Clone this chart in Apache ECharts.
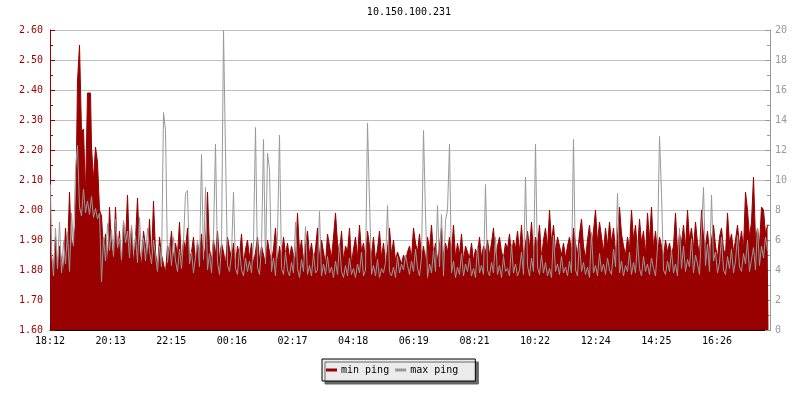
<!DOCTYPE html>
<html>
<head>
<meta charset="utf-8">
<script src="https://cdn.jsdelivr.net/npm/echarts@6/dist/echarts.min.js"></script>
<style>
html,body{margin:0;padding:0;background:#fff;}
#chart{width:800px;height:400px;}
</style>
</head>
<body>
<div id="chart"></div>
<script>
const chartTitle = '10.150.100.231';
const seriesNames = ['min ping', 'max ping'];
const tickLabels = ['18:12','20:13','22:15','00:16','02:17','04:18','06:19','08:21','10:22','12:24','14:25','16:26'];
const tickIntervalMinutes = 121.27;
const spanMinutes = 1440;
const stepMinutes = 4;
const sampleOffsetMinutes = 1;

// min ping (ms), left axis — one sample every 4 minutes
const minPing = [
1.97,1.84,1.80,1.91,1.78,1.88,1.83,1.79,1.94,1.85,2.06,1.87,1.90,1.95,2.43,2.55,2.26,2.27,2.05,2.39,
2.39,2.21,2.10,2.21,2.16,2.00,1.98,1.86,1.92,1.81,2.01,1.88,1.84,2.01,1.85,1.93,1.80,1.96,1.89,2.05,
1.86,1.94,1.82,1.90,2.04,1.87,1.81,1.93,1.88,1.84,1.97,1.83,2.03,1.86,1.80,1.91,1.85,1.82,1.79,1.88,
1.86,1.93,1.83,1.89,1.85,1.96,1.82,1.90,1.87,1.94,1.84,1.86,1.91,1.82,1.89,1.85,1.92,1.83,1.88,2.06,
1.87,1.83,1.90,1.85,1.93,1.83,1.89,1.86,1.82,1.91,1.87,1.84,1.89,1.82,1.88,1.85,1.92,1.82,1.87,1.90,
1.84,1.89,1.82,1.86,1.91,1.83,1.88,1.85,1.82,1.90,1.86,1.83,1.87,1.94,1.82,1.88,1.84,1.91,1.85,1.89,
1.84,1.88,1.85,1.83,1.99,1.86,1.90,1.83,1.88,1.93,1.85,1.89,1.83,1.87,1.94,1.84,1.90,1.86,1.82,1.92,
1.88,1.84,1.91,1.99,1.89,1.85,1.93,1.83,1.88,1.86,1.94,1.82,1.87,1.91,1.84,1.95,1.86,1.89,1.83,1.93,
1.88,1.85,1.91,1.83,1.87,1.93,1.84,1.89,1.82,1.87,1.94,1.85,1.90,1.83,1.86,1.84,1.82,1.85,1.83,1.86,
1.88,1.84,1.94,1.89,1.86,1.92,1.84,1.88,1.83,1.91,1.87,1.95,1.85,1.89,1.83,1.88,1.94,1.84,1.89,1.86,
1.91,1.86,1.95,1.84,1.89,1.85,1.92,1.83,1.88,1.86,1.84,1.89,1.83,1.87,1.85,1.91,1.84,1.88,1.86,1.90,
1.85,1.89,1.94,1.84,1.88,1.91,1.86,1.84,1.89,1.87,1.92,1.85,1.90,1.87,1.93,1.86,1.95,1.84,1.89,1.93,
1.87,1.96,1.85,1.91,1.88,1.95,1.84,1.90,1.94,1.87,2.00,1.89,1.95,1.86,1.91,1.88,1.85,1.89,1.84,1.88,
1.91,1.86,1.94,1.89,1.85,1.92,1.97,1.88,1.84,1.90,1.95,1.87,1.93,2.00,1.89,1.96,1.91,1.86,1.94,1.88,
1.96,1.89,1.94,1.86,1.91,2.01,1.92,1.88,1.85,1.91,1.87,2.00,1.90,1.95,1.86,1.97,1.89,1.93,1.85,1.99,
1.90,2.01,1.87,1.93,1.85,1.91,1.88,1.84,1.90,1.86,1.89,1.85,1.88,1.99,1.86,1.92,1.89,1.95,1.87,2.00,
1.90,1.94,1.87,1.96,1.89,1.85,2.00,1.91,1.88,1.93,1.86,1.90,1.95,1.88,1.84,1.91,1.94,1.87,1.85,1.99,
1.89,1.92,1.86,1.90,1.95,1.88,1.93,1.87,2.06,2.00,1.91,1.96,2.11,1.90,1.94,1.88,2.01,2.00,1.92,1.95
];

// max ping (ms), right axis — one sample every 4 minutes
const maxPing = [
9.7,5.2,3.6,6.8,4.1,7.2,3.8,5.9,4.4,6.5,3.9,7.8,5.6,10.7,12.3,8.2,7.6,9.4,7.8,8.6,
7.7,8.9,7.5,8.1,7.4,7.8,3.2,6.2,4.6,7.1,5.3,6.7,4.9,7.4,5.5,6.1,4.7,7.3,5.8,6.6,
4.8,7.0,5.2,6.3,4.5,7.5,5.0,6.1,4.6,6.8,5.3,4.4,6.0,4.9,3.9,5.6,4.2,14.5,13.3,4.5,
5.8,4.3,6.2,4.6,3.9,5.4,4.1,5.9,9.1,9.3,4.4,5.2,3.8,4.9,6.0,4.2,11.7,4.7,9.5,4.0,
5.1,3.8,6.3,12.4,4.5,3.7,5.6,20,11.8,4.3,3.9,5.0,9.2,4.1,3.7,5.4,4.0,3.6,4.8,3.9,
4.6,3.8,5.9,13.5,4.2,3.7,5.5,12.7,4.4,11.8,10.7,3.9,4.8,3.6,6.4,13.0,4.1,3.7,5.2,4.0,
3.6,4.5,3.8,7.2,4.1,3.5,4.7,3.9,6.9,3.7,4.3,3.6,5.1,3.8,4.0,7.9,3.6,4.4,3.7,4.9,
3.8,4.2,3.5,4.6,3.7,5.8,3.9,3.5,4.3,3.6,4.8,3.7,4.1,3.5,4.4,3.8,5.2,3.6,4.0,13.8,
8.6,3.7,4.3,3.6,4.7,3.5,4.1,3.8,4.5,8.3,3.9,3.6,4.2,3.5,4.9,3.8,4.4,4.0,5.0,4.3,
3.7,4.6,3.9,5.4,4.1,3.6,4.8,13.3,7.7,3.5,4.4,3.8,5.3,3.9,8.3,4.2,7.7,3.6,7.3,8.0,
12.4,3.8,4.6,3.5,4.2,3.7,5.1,3.6,4.4,3.9,4.8,3.6,4.1,3.5,5.6,3.8,4.3,3.7,9.7,4.0,
3.6,4.5,3.8,6.2,3.7,4.3,3.5,4.9,3.9,4.1,3.6,5.7,3.8,4.4,3.6,4.0,5.2,3.7,10.2,4.3,
3.6,4.8,3.9,12.4,4.2,3.7,5.0,3.8,4.5,3.6,4.1,3.5,6.3,3.9,4.4,3.7,4.9,3.8,4.2,3.6,
4.6,3.8,12.7,4.0,3.6,5.8,3.9,4.5,3.7,4.2,3.5,6.5,3.8,4.3,3.6,5.1,3.9,4.4,3.7,4.8,
4.0,3.7,5.4,4.2,9.1,3.8,4.6,3.6,4.3,3.9,5.2,3.7,4.5,3.8,6.0,4.1,3.6,4.9,3.9,4.4,
3.7,4.8,4.1,3.6,5.5,12.9,9.1,4.0,3.7,4.6,3.9,5.3,3.8,4.4,3.6,6.8,4.1,5.6,3.9,4.7,
4.2,6.1,3.8,5.0,4.4,3.7,6.6,9.5,4.3,5.7,3.9,9.0,4.6,5.2,3.8,4.5,6.2,4.0,3.7,4.9,
4.1,5.4,3.8,4.6,6.3,4.2,3.9,5.1,4.4,6.0,3.9,4.7,5.5,4.0,6.8,4.3,5.6,4.8,6.2,5.3
];

const FONT = 'DejaVu Sans Mono';
const RED = '#990000';
const GREY = '#999999';

const minData = minPing.map((v, i) => [i * stepMinutes + sampleOffsetMinutes, v]);
const maxData = maxPing.map((v, i) => [i * stepMinutes + sampleOffsetMinutes, v]);

const chart = echarts.init(document.getElementById('chart'), null, {renderer: 'canvas'});
chart.setOption({
  animation: false,
  backgroundColor: '#ffffff',
  title: {
    text: chartTitle,
    left: 409, top: 7, padding: 0,
    textAlign: 'center',
    textStyle: {fontFamily: FONT, fontSize: 10, fontWeight: 'normal', color: '#000'}
  },
  legend: {
    data: seriesNames,
    left: 322, top: 359,
    padding: [6, 17, 6, 4],
    itemGap: 6,
    itemWidth: 11, itemHeight: 3,
    icon: 'rect',
    backgroundColor: '#ebebeb',
    borderColor: '#000', borderWidth: 1,
    shadowColor: '#666666', shadowBlur: 0, shadowOffsetX: 3, shadowOffsetY: 3,
    textStyle: {fontFamily: FONT, fontSize: 10, color: '#000', padding: [0,0,0,-1]}
  },
  grid: {left: 50, right: 30, top: 30, bottom: 70, containLabel: false},
  xAxis: {
    type: 'value', min: 0, max: spanMinutes, interval: tickIntervalMinutes,
    axisLine: {lineStyle: {color: '#000', width: 1}},
    axisTick: {inside: true, length: 5, lineStyle: {color: '#000'}},
    axisLabel: {
      fontFamily: FONT, fontSize: 10, color: '#000', margin: 6, showMaxLabel: false,
      formatter: v => { const k = Math.round(v / tickIntervalMinutes); return tickLabels[k] || ''; }
    },
    splitLine: {show: false}
  },
  yAxis: [{
    type: 'value', min: 1.6, max: 2.6, interval: 0.1, position: 'left',
    axisLine: {show: true, lineStyle: {color: RED}},
    axisTick: {show: true, inside: true, length: 5, lineStyle: {color: RED}},
    minorTick: {show: true, splitNumber: 2, length: 3, lineStyle: {color: RED}},
    axisLabel: {fontFamily: FONT, fontSize: 10, color: RED, margin: 7, formatter: v => v.toFixed(2)},
    splitLine: {show: true, lineStyle: {color: '#c0c0c0', width: 1}}
  }, {
    type: 'value', min: 0, max: 20, interval: 2, position: 'right',
    axisLine: {show: true, lineStyle: {color: GREY}},
    axisTick: {show: true, inside: true, length: 5, lineStyle: {color: GREY}},
    minorTick: {show: true, splitNumber: 2, length: 3, lineStyle: {color: GREY}},
    axisLabel: {fontFamily: FONT, fontSize: 10, color: GREY, margin: 5},
    splitLine: {show: false}
  }],
  series: [{
    name: seriesNames[0], type: 'line', yAxisIndex: 0, step: 'middle',
    data: minData, symbol: 'none', color: RED,
    lineStyle: {color: RED, width: 1},
    areaStyle: {color: RED, opacity: 1},
    z: 2
  }, {
    name: seriesNames[1], type: 'line', yAxisIndex: 1, step: 'middle',
    data: maxData, symbol: 'none', color: GREY,
    lineStyle: {color: GREY, width: 1},
    z: 3
  }]
});
</script>
</body>
</html>
